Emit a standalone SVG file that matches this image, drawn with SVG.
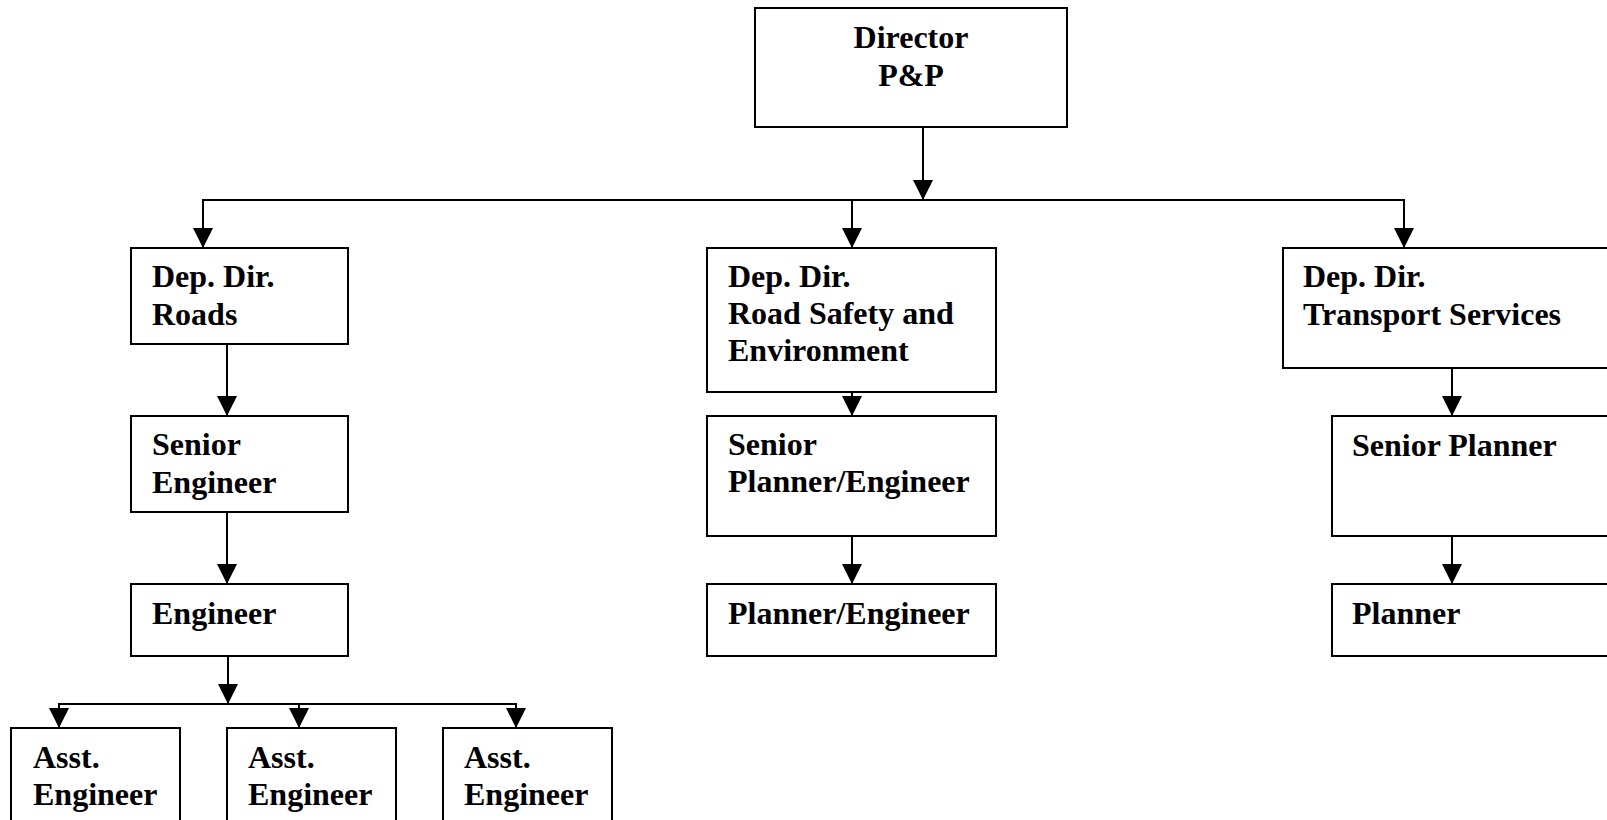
<svg xmlns="http://www.w3.org/2000/svg" width="1607" height="820" viewBox="0 0 1607 820">
<style>
.box{fill:#fff;stroke:#000;stroke-width:2}
.t{font-family:"Liberation Serif","Times New Roman",serif;font-weight:bold;font-size:32px;fill:#000}
.c{fill:none;stroke:#000;stroke-width:2}
</style>
<defs>
<marker id="ah" markerUnits="userSpaceOnUse" markerWidth="20" markerHeight="20" refX="20" refY="10" orient="auto" viewBox="0 0 20 20">
<path d="M0,0 L20,10 L0,20 z" fill="#000"/>
</marker>
</defs>
<rect width="1607" height="820" fill="#fff"/>
<g id="connectors">
<line class="c" x1="923" y1="127" x2="923" y2="200" marker-end="url(#ah)"/>
<polyline class="c" points="203,248 203,200 1404,200 1404,248" marker-end="url(#ah)"/>
<line class="c" x1="203" y1="210" x2="203" y2="248" marker-end="url(#ah)"/>
<line class="c" x1="852" y1="200" x2="852" y2="248" marker-end="url(#ah)"/>
<line class="c" x1="227" y1="344" x2="227" y2="416" marker-end="url(#ah)"/>
<line class="c" x1="227" y1="512" x2="227" y2="584" marker-end="url(#ah)"/>
<line class="c" x1="228" y1="656" x2="228" y2="704" marker-end="url(#ah)"/>
<polyline class="c" points="59,728 59,704 516,704 516,728" marker-end="url(#ah)"/>
<line class="c" x1="59" y1="712" x2="59" y2="728" marker-end="url(#ah)"/>
<line class="c" x1="299" y1="704" x2="299" y2="728" marker-end="url(#ah)"/>
<line class="c" x1="852" y1="392" x2="852" y2="416" marker-end="url(#ah)"/>
<line class="c" x1="852" y1="536" x2="852" y2="584" marker-end="url(#ah)"/>
<line class="c" x1="1452" y1="368" x2="1452" y2="416" marker-end="url(#ah)"/>
<line class="c" x1="1452" y1="536" x2="1452" y2="584" marker-end="url(#ah)"/>
</g>
<g id="director"><rect class="box" x="755" y="8" width="312" height="119"/><text class="t" x="911" y="48" text-anchor="middle">Director</text><text class="t" x="911" y="86" text-anchor="middle">P&amp;P</text></g>
<g id="dd-roads"><rect class="box" x="131" y="248" width="217" height="96"/><text class="t" x="152" y="287">Dep. Dir.</text><text class="t" x="152" y="325">Roads</text></g>
<g id="dd-safety"><rect class="box" x="707" y="248" width="289" height="144"/><text class="t" x="728" y="287">Dep. Dir.</text><text class="t" x="728" y="324">Road Safety and</text><text class="t" x="728" y="361">Environment</text></g>
<g id="dd-transport"><rect class="box" x="1283" y="248" width="330" height="120"/><text class="t" x="1303" y="287">Dep. Dir.</text><text class="t" x="1303" y="325">Transport Services</text></g>
<g id="senior-engineer"><rect class="box" x="131" y="416" width="217" height="96"/><text class="t" x="152" y="455">Senior</text><text class="t" x="152" y="493">Engineer</text></g>
<g id="senior-planner-engineer"><rect class="box" x="707" y="416" width="289" height="120"/><text class="t" x="728" y="455">Senior</text><text class="t" x="728" y="492">Planner/Engineer</text></g>
<g id="senior-planner"><rect class="box" x="1332" y="416" width="281" height="120"/><text class="t" x="1352" y="456">Senior Planner</text></g>
<g id="engineer"><rect class="box" x="131" y="584" width="217" height="72"/><text class="t" x="152" y="624">Engineer</text></g>
<g id="planner-engineer"><rect class="box" x="707" y="584" width="289" height="72"/><text class="t" x="728" y="624">Planner/Engineer</text></g>
<g id="planner"><rect class="box" x="1332" y="584" width="281" height="72"/><text class="t" x="1352" y="624">Planner</text></g>
<g id="asst-1"><rect class="box" x="11" y="728" width="169" height="110"/><text class="t" x="33" y="768">Asst.</text><text class="t" x="33" y="805">Engineer</text></g>
<g id="asst-2"><rect class="box" x="227" y="728" width="169" height="110"/><text class="t" x="248" y="768">Asst.</text><text class="t" x="248" y="805">Engineer</text></g>
<g id="asst-3"><rect class="box" x="443" y="728" width="169" height="110"/><text class="t" x="464" y="768">Asst.</text><text class="t" x="464" y="805">Engineer</text></g>
</svg>
